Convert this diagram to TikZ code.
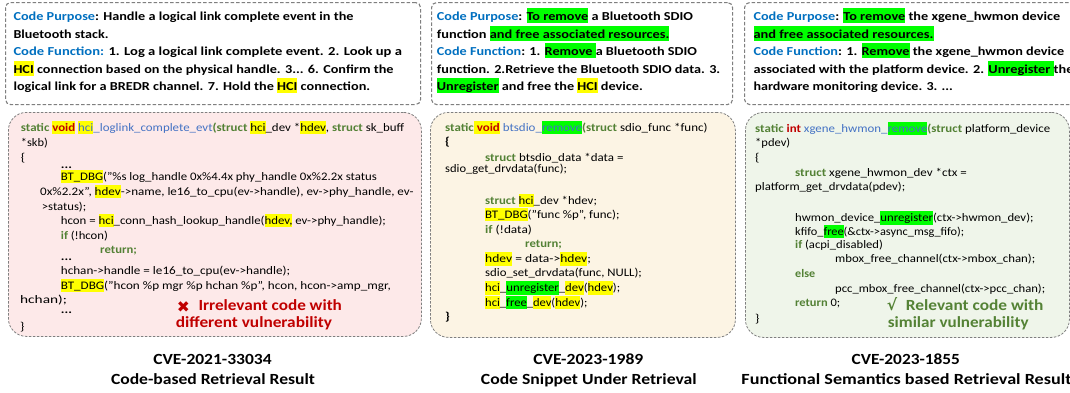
\documentclass[tikz,border=0pt]{standalone}
\usepackage{fontspec}
\usepackage{graphicx}
\setmainfont{Carlito}
\newfontfamily\symfont{DejaVu Sans}
\definecolor{lblblue}{HTML}{0070C0}
\definecolor{kwgreen}{HTML}{538135}
\definecolor{fnblue}{HTML}{4472C4}
\definecolor{vred}{HTML}{C00000}
\definecolor{hlyellow}{HTML}{FFFF00}
\definecolor{hlgreen}{HTML}{00FF00}
\definecolor{boxgray}{HTML}{7F7F7F}
\definecolor{pinkfill}{HTML}{FDE9E9}
\definecolor{beigefill}{HTML}{FCF4E4}
\definecolor{greenfill}{HTML}{EFF5EA}
\definecolor{notegreen}{HTML}{548235}
\newcommand\hlstrut{}
\newcommand\hly[1]{{\setlength{\fboxsep}{0pt}\colorbox{hlyellow}{\hlstrut#1}}}
\newcommand\hlg[1]{{\setlength{\fboxsep}{0pt}\colorbox{hlgreen}{\hlstrut#1}}}
\newcommand\kw[1]{\textbf{\textcolor{kwgreen}{#1}}}
\newcommand\fn[1]{\textcolor{fnblue}{#1}}
\newcommand\lbl[1]{\textcolor{lblblue}{#1}}
% name, x, y, width, text
\newcommand\topln[5]{\node[toptxt] (#1) at (#2,#3) {\resizebox{#4pt}{\height}{#5}};}
\newcommand\codeln[5]{\node[codetxt] (#1) at (#2,#3) {\resizebox{#4pt}{\height}{#5}};}
\newcommand\codelns[4]{\node[codetxt] (#1) at (#2,#3) {\scalebox{1.2}[1]{#4}};}
\tikzset{
  topbox/.style={draw=boxgray, dash pattern=on 3.5pt off 2pt, line width=1.1pt, rounded corners=5pt, fill=white, inner sep=0pt, anchor=north west},
  codebox/.style={draw=boxgray, dash pattern=on 2.5pt off 1.5pt, line width=0.8pt, rounded corners=18pt, inner sep=0pt, anchor=north west},
  toptxt/.style={anchor=base west, inner sep=0pt, font=\fontsize{12.2}{15}\selectfont\bfseries\renewcommand\hlstrut{\rule[-2.5pt]{0pt}{15pt}}},
  codetxt/.style={anchor=base west, inner sep=0pt, font=\fontsize{11.5}{13}\selectfont\renewcommand\hlstrut{\rule[-2.8pt]{0pt}{13.3pt}}},
  notetxt/.style={anchor=base west, inner sep=0pt, font=\fontsize{15.5}{18}\selectfont\bfseries},
  captxt/.style={anchor=base, inner sep=0pt, font=\fontsize{15.5}{19}\selectfont\bfseries},
}
\begin{document}
\begin{tikzpicture}[x=1pt,y=-1pt]
\useasboundingbox (0,0) rectangle (1070,392);
\fill[white] (0,0) rectangle (1070,392);
% top boxes
\node[topbox, minimum width=415pt, minimum height=102pt] (tlbox) at (5,2) {};
\node[topbox, minimum width=301pt, minimum height=102pt] (tmbox) at (431,2) {};
\node[topbox, minimum width=340pt, minimum height=102pt] (trbox) at (744,2) {};
% code boxes
\node[codebox, fill=pinkfill, minimum width=413pt, minimum height=224pt] (clbox) at (8,112) {};
\node[codebox, fill=beigefill, minimum width=305pt, minimum height=225pt] (cmbox) at (430,112) {};
\node[codebox, fill=greenfill, minimum width=324pt, minimum height=225pt] (crbox) at (745,112) {};
% top-left text
\topln{tl1}{13.3}{20.7}{340}{\lbl{Code Purpose}: Handle a logical link complete event in the}
\topln{tl2}{13.3}{38.3}{95}{Bluetooth stack.}
\topln{tl3}{13.3}{55.7}{388.4}{\lbl{Code Function:} 1. Log a logical link complete event. 2. Look up a}
\topln{tl4}{13.3}{73}{380}{\hly{HCI} connection based on the physical handle. 3... 6. Confirm the}
\topln{tl5}{13.3}{90.7}{356.7}{logical link for a BREDR channel. 7. Hold the \hly{HCI} connection.}
% top-middle text
\topln{tm1}{436.7}{20.7}{256}{\lbl{Code Purpose}: \hlg{To remove} a Bluetooth SDIO}
\topln{tm2}{436.7}{38.3}{232.5}{function \hlg{and free associated resources.}}
\topln{tm3}{436.7}{55.7}{260}{\lbl{Code Function}: 1. \hlg{Remove }a Bluetooth SDIO}
\topln{tm4}{436.7}{73}{283.3}{function. 2.Retrieve the Bluetooth SDIO data. 3.}
\topln{tm5}{436.7}{90.7}{206}{\hlg{Unregister} and free the \hly{HCI} device.}
% top-right text
\topln{tr1}{753.3}{20.7}{306.7}{\lbl{Code Purpose}: \hlg{To remove} the xgene\_hwmon device}
\topln{tr2}{753.3}{38.3}{180}{\hlg{and free associated resources.}}
\topln{tr3}{753.3}{55.7}{310.7}{\lbl{Code Function}: 1. \hlg{Remove} the xgene\_hwmon device}
\topln{tr4}{753.3}{73}{320}{associated with the platform device. 2. \hlg{Unregister }the}
\topln{tr5}{753.3}{90.7}{199.4}{hardware monitoring device. 3. ...}
% left code
\codeln{cl1}{20.7}{131.5}{383.3}{\kw{static} \hly{\textbf{\textcolor{vred}{void}}} \fn{\hly{hci}\_loglink\_complete\_evt}\kw{(struct} \hly{hci}\_dev *\hly{hdev}, \kw{struct} sk\_buff}
\codeln{cl2}{20.7}{146.5}{27}{*skb)}
\codelns{cl3}{20.7}{161.5}{\{}
\codelns{cl4}{60.7}{168}{\textbf{...}}
\codeln{cl5}{60.7}{180.5}{316}{\hly{BT\_DBG}("\%s log\_handle 0x\%4.4x phy\_handle 0x\%2.2x status}
\codeln{cl6}{40}{195.5}{373.3}{0x\%2.2x", \hly{hdev}->name, le16\_to\_cpu(ev->handle), ev->phy\_handle, ev-}
\codeln{cl7}{41.7}{210.5}{44.3}{>status);}
\codeln{cl8}{60.7}{224.5}{325}{hcon = \hly{hci}\_conn\_hash\_lookup\_handle(\hly{hdev,} ev->phy\_handle);}
\codeln{cl9}{60.7}{239.5}{47}{\kw{if} (!hcon)}
\codeln{cl10}{100}{253.5}{36.7}{\kw{return;}}
\codelns{cl11}{60.7}{260.5}{\textbf{...}}
\codeln{cl12}{60.7}{274.5}{229.3}{hchan->handle = le16\_to\_cpu(ev->handle);}
\codeln{cl13}{60.7}{289.5}{330}{\hly{BT\_DBG}("hcon \%p mgr \%p hchan \%p", hcon, hcon->amp\_mgr,}
\codeln{cl14}{20}{303.5}{46.7}{hchan);}
\codelns{cl15}{60.7}{313.5}{\textbf{...}}
\codelns{cl16}{20}{330.5}{\}}
% middle code
\codeln{cm1}{445}{131.2}{262.3}{\kw{static}\hly{ \textbf{\textcolor{vred}{void}}} \fn{btsdio\_\hlg{remove}}\kw{(struct} sdio\_func *func)}
\codelns{cm2}{445}{145.8}{\textbf{\{}}
\codeln{cm3}{485}{161.2}{138.3}{\kw{struct} btsdio\_data *data =}
\codeln{cm4}{445}{172.8}{121.7}{sdio\_get\_drvdata(func);}
\codeln{cm5}{485}{204.5}{111.7}{\kw{struct} \hly{hci}\_dev *hdev;}
\codeln{cm6}{485}{218.5}{134.3}{\hly{BT\_DBG}("func \%p", func);}
\codeln{cm7}{485}{233.5}{46.7}{\kw{if} (!data)}
\codeln{cm8}{525}{247}{36.7}{\kw{return;}}
\codeln{cm9}{485}{262.8}{105.7}{\hly{hdev} = data->\hly{hdev};}
\codeln{cm10}{485}{276.8}{156.7}{sdio\_set\_drvdata(func, NULL);}
\codeln{cm11}{485}{291.8}{135}{\hly{hci}\_\hlg{unregister}\_\hly{dev}(\hly{hdev});}
\codeln{cm12}{485}{306.2}{102.3}{\hly{hci}\_\hlg{free}\_\hly{dev}(\hly{hdev});}
\codelns{cm13}{445}{320.8}{\textbf{\}}}
% right code
\codeln{cr1}{755}{132.5}{295}{\kw{static} \textbf{\textcolor{vred}{int}} \fn{xgene\_hwmon\_\hlg{remove}}\kw{(struct} platform\_device}
\codeln{cr2}{755}{146.8}{35}{*pdev)}
\codelns{cr3}{755}{161.8}{\{}
\codeln{cr4}{795}{176.2}{171.7}{\kw{struct} xgene\_hwmon\_dev *ctx =}
\codeln{cr5}{755}{190.2}{150}{platform\_get\_drvdata(pdev);}
\codeln{cr6}{795}{221.8}{238.3}{hwmon\_device\_\hlg{unregister}(ctx->hwmon\_dev);}
\codeln{cr7}{795}{235.2}{169}{kfifo\_\hlg{free}(\&ctx->async\_msg\_fifo);}
\codeln{cr8}{795}{248.5}{87.7}{\kw{if} (acpi\_disabled)}
\codeln{cr9}{835}{262.8}{200}{mbox\_free\_channel(ctx->mbox\_chan);}
\codeln{cr10}{795}{277.5}{20}{\kw{else}}
\codeln{cr11}{835}{292.8}{210}{pcc\_mbox\_free\_channel(ctx->pcc\_chan);}
\codeln{cr12}{795}{306.8}{45}{\kw{return} 0;}
\codelns{cr13}{755}{322.8}{\}}
% notes
\node[notetxt, text=vred] (xmark) at (176.7,312) {\resizebox{13pt}{!}{\symfont ✖}};
\node[notetxt, text=vred] (n1a) at (198.3,310.5) {\resizebox{143.4pt}{\height}{Irrelevant code with}};
\node[notetxt, text=vred] (n1b) at (175.7,327) {\resizebox{156pt}{\height}{different vulnerability}};
\node[notetxt, text=notegreen] (ckmark) at (886.7,310.5) {\symfont √};
\node[notetxt, text=notegreen] (n2a) at (905.7,310.5) {\resizebox{137.6pt}{\height}{Relevant code with}};
\node[notetxt, text=notegreen] (n2b) at (887.7,327) {\resizebox{140.6pt}{\height}{similar vulnerability}};
% captions
\node[captxt] (c1a) at (212.5,364) {\resizebox{118.3pt}{\height}{CVE-2021-33034}};
\node[captxt] (c1b) at (213,384) {\resizebox{204pt}{\height}{Code-based Retrieval Result}};
\node[captxt] (c2a) at (588.3,364) {\resizebox{110pt}{\height}{CVE-2023-1989}};
\node[captxt] (c2b) at (588.8,384) {\resizebox{215.7pt}{\height}{Code Snippet Under Retrieval}};
\node[captxt] (c3a) at (905.8,364) {\resizebox{108.3pt}{\height}{CVE-2023-1855}};
\node[captxt] (c3b) at (906.5,384) {\resizebox{330pt}{\height}{Functional Semantics based Retrieval Result}};
\end{tikzpicture}
\end{document}
